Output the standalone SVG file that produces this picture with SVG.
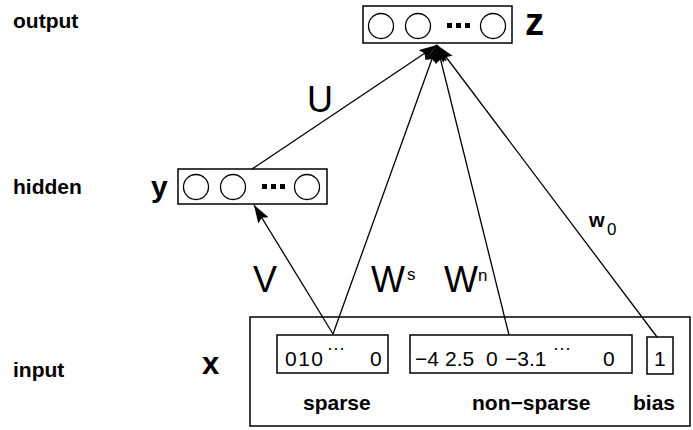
<svg xmlns="http://www.w3.org/2000/svg" width="693" height="430" viewBox="0 0 693 430">
  <style>
    .box { fill: none; stroke: #000; stroke-width: 1.5; }
    .unit { fill: none; stroke: #000; stroke-width: 1.3; }
    .dot { fill: #000; }
    .edge { fill: none; stroke: #000; stroke-width: 1.3; }
    .layer { font-family: "Liberation Sans", Arial, sans-serif; font-weight: bold; font-size: 21px; fill: #000; }
    .vec { font-family: "Liberation Sans", Arial, sans-serif; font-weight: bold; fill: #000; }
    .wt { font-family: "Liberation Sans", Arial, sans-serif; font-size: 36px; fill: #000; }
    .sup { font-family: "Liberation Sans", Arial, sans-serif; font-size: 17px; fill: #000; }
    .num { font-family: "Liberation Sans", Arial, sans-serif; font-size: 21px; fill: #000; }
    .ell { font-family: "Liberation Sans", Arial, sans-serif; font-size: 18px; fill: #000; }
  </style>
  <defs>
    <marker id="arrow" markerUnits="userSpaceOnUse" markerWidth="20" markerHeight="14" refX="18" refY="6" orient="auto">
      <path d="M0,0 L18,6 L0,12 L3,6 Z" fill="#000"/>
    </marker>
  </defs>

  <!-- layer names -->
  <text class="layer" x="13" y="28">output</text>
  <text class="layer" x="13" y="194">hidden</text>
  <text class="layer" x="13" y="377">input</text>

  <!-- output layer z -->
  <g id="output">
    <rect class="box" x="363" y="6" width="149" height="37"/>
    <circle class="unit" cx="381" cy="26" r="12.5"/>
    <circle class="unit" cx="418" cy="26" r="12.5"/>
    <rect class="dot" x="447" y="23" width="5" height="5"/>
    <rect class="dot" x="456" y="23" width="5" height="5"/>
    <rect class="dot" x="465" y="23" width="5" height="5"/>
    <circle class="unit" cx="493" cy="26" r="12.5"/>
    <text class="vec" x="525" y="35" font-size="38">z</text>
  </g>

  <!-- hidden layer y -->
  <g id="hidden">
    <rect class="box" x="178" y="169" width="149" height="35"/>
    <circle class="unit" cx="196" cy="187" r="12.5"/>
    <circle class="unit" cx="233" cy="187" r="12.5"/>
    <rect class="dot" x="262" y="184" width="5" height="5"/>
    <rect class="dot" x="271" y="184" width="5" height="5"/>
    <rect class="dot" x="280" y="184" width="5" height="5"/>
    <circle class="unit" cx="307" cy="187" r="12.5"/>
    <text class="vec" x="151" y="197" font-size="30">y</text>
  </g>

  <!-- input layer x -->
  <g id="input">
    <rect class="box" x="250" y="317" width="440" height="109"/>
    <text class="vec" x="202" y="374" font-size="31">x</text>
  </g>

  <g id="sparse">
    <rect class="box" x="277" y="335" width="111" height="38"/>
    <text class="num" x="285" y="366" letter-spacing="1.5">010</text>
    <text class="ell" x="327" y="354">···</text>
    <text class="num" x="370" y="366">0</text>
    <text class="layer" x="303" y="410">sparse</text>
  </g>

  <g id="non-sparse">
    <rect class="box" x="410" y="335" width="222" height="38"/>
    <text class="num" x="415" y="366">−4</text>
    <text class="num" x="445" y="366">2.5</text>
    <text class="num" x="486" y="366">0</text>
    <text class="num" x="505" y="366">−3.1</text>
    <text class="ell" x="553" y="354">···</text>
    <text class="num" x="603" y="366">0</text>
    <text class="layer" x="472" y="410">non−sparse</text>
  </g>

  <g id="bias">
    <rect class="box" x="647" y="337" width="26" height="37"/>
    <text class="num" x="654" y="366">1</text>
    <text class="layer" x="633" y="410">bias</text>
  </g>

  <!-- weighted connections -->
  <g id="connectors">
    <line class="edge" x1="333" y1="334" x2="254" y2="205" marker-end="url(#arrow)"/>
    <line class="edge" x1="252" y1="169" x2="437" y2="45" marker-end="url(#arrow)"/>
    <line class="edge" x1="333" y1="334" x2="437" y2="45" marker-end="url(#arrow)"/>
    <line class="edge" x1="509" y1="335" x2="437" y2="45" marker-end="url(#arrow)"/>
    <line class="edge" x1="657" y1="337" x2="437" y2="45" marker-end="url(#arrow)"/>
  </g>

  <!-- weight labels -->
  <g id="labels">
    <text class="wt" x="307" y="112">U</text>
    <text class="wt" x="253" y="292">V</text>
    <text class="wt" x="371" y="292">W</text>
    <text class="sup" x="407" y="280">s</text>
    <text class="wt" x="444" y="292">W</text>
    <text class="sup" x="478" y="281">n</text>
    <text class="vec" x="589" y="227" font-size="20">w</text>
    <text class="sup" x="607" y="235" font-size="15">0</text>
  </g>
</svg>
